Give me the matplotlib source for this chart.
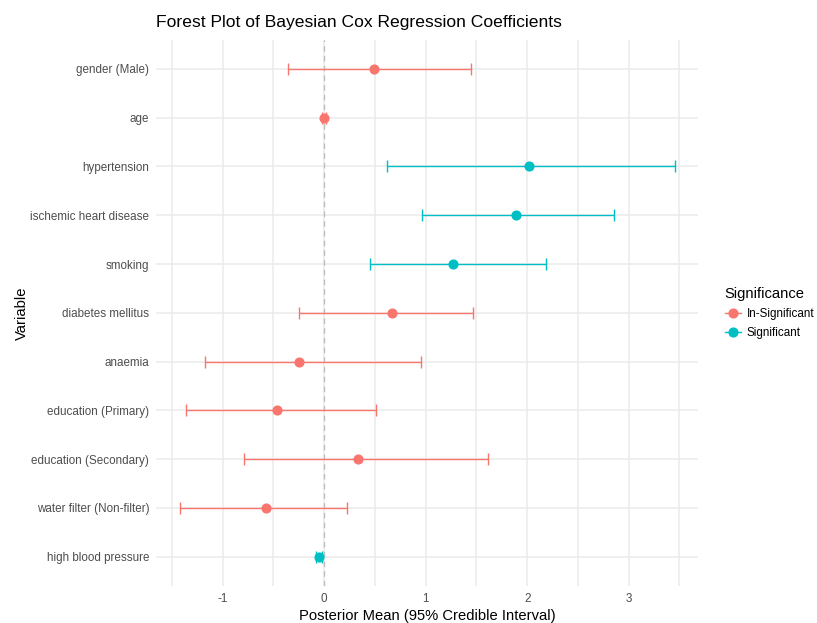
import numpy as np
import matplotlib.pyplot as plt
from matplotlib.lines import Line2D

plt.rcParams['font.family'] = ['Liberation Sans', 'DejaVu Sans']
plt.rcParams['axes.unicode_minus'] = False

variables = ["gender (Male)", "age", "hypertension", "ischemic heart disease",
             "smoking", "diabetes mellitus", "anaemia", "education (Primary)",
             "education (Secondary)", "water filter (Non-filter)", "high blood pressure"]
means = [0.49, 0.0, 2.02, 1.89, 1.27, 0.67, -0.25, -0.46, 0.33, -0.57, -0.05]
lower = [-0.36, -0.02, 0.62, 0.96, 0.45, -0.25, -1.17, -1.36, -0.79, -1.42, -0.08]
upper = [1.45, 0.02, 3.46, 2.86, 2.19, 1.47, 0.95, 0.51, 1.61, 0.23, -0.02]
significant = [False, False, True, True, True, False, False, False, False, False, True]

red = "#F8766D"
teal = "#00BFC4"

fig = plt.figure(figsize=(8.17, 6.23), dpi=100)
ax = fig.add_axes([0.191, 0.0594, 0.663, 0.877])

n = len(variables)
ypos = np.arange(n)[::-1]

ax.axvline(0, color="#BEBEBE", linestyle=(0, (4, 3)), linewidth=1, zorder=1)

for i in range(n):
    c = teal if significant[i] else red
    ax.errorbar(means[i], ypos[i],
                xerr=[[means[i] - lower[i]], [upper[i] - means[i]]],
                fmt="o", color=c, ecolor=c, elinewidth=1, capsize=4.5,
                capthick=1, markersize=6.3, zorder=3)

ax.set_yticks(ypos)
ax.set_yticklabels(variables)
ax.set_xticks([-1, 0, 1, 2, 3])
ax.set_xticks([-1.5, -0.5, 0.5, 1.5, 2.5, 3.5], minor=True)
ax.set_xlim(-1.655, 3.68)
ax.set_ylim(-0.6, n - 0.4)

ax.grid(which="major", color="#EBEBEB", linewidth=1.1)
ax.grid(which="minor", axis="x", color="#EBEBEB", linewidth=1.1)
ax.set_axisbelow(True)
for s in ax.spines.values():
    s.set_visible(False)
ax.tick_params(which="both", length=0, labelsize=8.4, colors="#4D4D4D", pad=5)

ax.set_xlabel("Posterior Mean (95% Credible Interval)", fontsize=10.6, labelpad=3)
ax.set_ylabel("Variable", fontsize=10.6, labelpad=1)
ax.set_title("Forest Plot of Bayesian Cox Regression Coefficients", fontsize=12.6, loc="left", pad=9)

handles = [Line2D([0], [0], color=red, marker="o", markersize=6.3, linewidth=1),
           Line2D([0], [0], color=teal, marker="o", markersize=6.3, linewidth=1)]
leg = fig.legend(handles, ["In-Significant", "Significant"], title="Significance",
                 loc="center left", bbox_to_anchor=(0.880, 0.497), frameon=False,
                 fontsize=8.4, title_fontsize=10.6, handlelength=1.4, alignment="left",
                 borderpad=0, labelspacing=0.6, handletextpad=0.5)

fig.savefig("out.png", dpi=100)
